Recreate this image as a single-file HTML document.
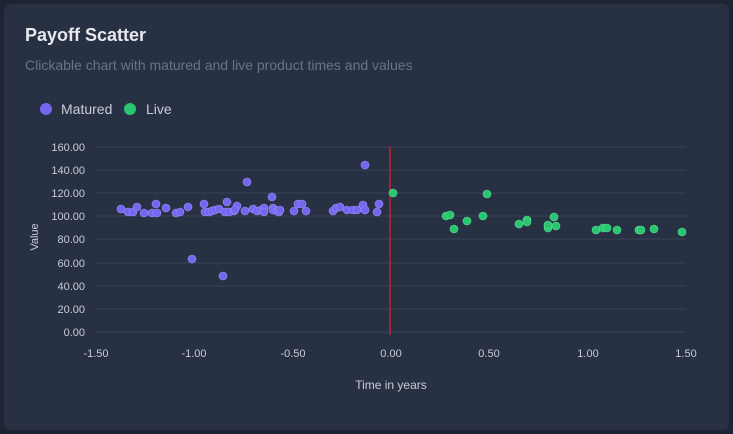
<!DOCTYPE html>
<html><head><style>
body{margin:0;background:#1e2433;width:733px;height:434px;overflow:hidden;font-family:"Liberation Sans",sans-serif}
.card{position:absolute;left:4px;top:4px;width:725px;height:426px;background:#283044;border-radius:6px}
</style></head><body>
<div class="card"></div>
<svg width="733" height="434" style="position:absolute;left:0;top:0">
<text x="25" y="41" fill="#e6e8ee" font-size="18" font-weight="bold">Payoff Scatter</text>
<text x="25" y="70" fill="#6b7386" font-size="14">Clickable chart with matured and live product times and values</text>
<circle cx="46" cy="109" r="6" fill="#7367f0"/><text x="61" y="114" fill="#c8ccd6" font-size="14">Matured</text>
<circle cx="130" cy="109" r="6" fill="#28c76f"/><text x="146" y="114" fill="#c8ccd6" font-size="14">Live</text>
<g stroke="#3a4256" stroke-width="1">
<line x1="96" x2="686" y1="147" y2="147"/><line x1="96" x2="686" y1="170" y2="170"/><line x1="96" x2="686" y1="193" y2="193"/><line x1="96" x2="686" y1="216" y2="216"/><line x1="96" x2="686" y1="239" y2="239"/><line x1="96" x2="686" y1="263" y2="263"/><line x1="96" x2="686" y1="286" y2="286"/><line x1="96" x2="686" y1="309" y2="309"/><line x1="96" x2="686" y1="332" y2="332"/>
</g>
<g fill="#c8ccd6" font-size="11" text-anchor="end">
<text x="85" y="151">160.00</text><text x="85" y="174">140.00</text><text x="85" y="197">120.00</text><text x="85" y="220">100.00</text><text x="85" y="243">80.00</text><text x="85" y="267">60.00</text><text x="85" y="290">40.00</text><text x="85" y="313">20.00</text><text x="85" y="336">0.00</text>
</g>
<g fill="#c8ccd6" font-size="11" text-anchor="middle">
<text x="96" y="357">-1.50</text><text x="194" y="357">-1.00</text><text x="293" y="357">-0.50</text><text x="391" y="357">0.00</text><text x="489" y="357">0.50</text><text x="588" y="357">1.00</text><text x="686" y="357">1.50</text>
<text x="391" y="389" font-size="12">Time in years</text>
</g>
<text transform="translate(38,237) rotate(-90)" fill="#c8ccd6" font-size="11" text-anchor="middle">Value</text>
<line x1="390" x2="390" y1="147" y2="335" stroke="#c0242a" stroke-width="1.5"/>
<g fill="#7367f0" stroke="#9a92f5" stroke-width="0.6">
<circle cx="121" cy="209" r="4"/><circle cx="128" cy="212" r="4"/><circle cx="133" cy="212" r="4"/><circle cx="137" cy="207" r="4"/><circle cx="144" cy="213" r="4"/><circle cx="152" cy="213" r="4"/><circle cx="156" cy="204" r="4"/><circle cx="157" cy="213" r="4"/><circle cx="166" cy="208" r="4"/><circle cx="176" cy="213" r="4"/><circle cx="180" cy="212" r="4"/><circle cx="188" cy="207" r="4"/><circle cx="192" cy="259" r="4"/><circle cx="204" cy="204" r="4"/><circle cx="205" cy="212" r="4"/><circle cx="209" cy="212" r="4"/><circle cx="212" cy="211" r="4"/><circle cx="215" cy="210" r="4"/><circle cx="219" cy="209" r="4"/><circle cx="223" cy="276" r="4"/><circle cx="225" cy="212" r="4"/><circle cx="227" cy="202" r="4"/><circle cx="229" cy="212" r="4"/><circle cx="234" cy="211" r="4"/><circle cx="237" cy="206" r="4"/><circle cx="235" cy="210" r="4"/><circle cx="245" cy="211" r="4"/><circle cx="247" cy="182" r="4"/><circle cx="253" cy="209" r="4"/><circle cx="257" cy="211" r="4"/><circle cx="261" cy="210" r="4"/><circle cx="264" cy="208" r="4"/><circle cx="264" cy="212" r="4"/><circle cx="272" cy="197" r="4"/><circle cx="273" cy="208" r="4"/><circle cx="273" cy="210" r="4"/><circle cx="277" cy="211" r="4"/><circle cx="279" cy="212" r="4"/><circle cx="280" cy="210" r="4"/><circle cx="294" cy="211" r="4"/><circle cx="298" cy="204" r="4"/><circle cx="302" cy="204" r="4"/><circle cx="306" cy="211" r="4"/><circle cx="333" cy="211" r="4"/><circle cx="336" cy="208" r="4"/><circle cx="340" cy="207" r="4"/><circle cx="347" cy="210" r="4"/><circle cx="353" cy="210" r="4"/><circle cx="357" cy="210" r="4"/><circle cx="363" cy="205" r="4"/><circle cx="365" cy="165" r="4"/><circle cx="365" cy="210" r="4"/><circle cx="377" cy="212" r="4"/><circle cx="379" cy="204" r="4"/>
</g>
<g fill="#28c76f" stroke="#5fdc97" stroke-width="0.6">
<circle cx="393" cy="193" r="4"/><circle cx="446" cy="216" r="4"/><circle cx="450" cy="215" r="4"/><circle cx="454" cy="229" r="4"/><circle cx="467" cy="221" r="4"/><circle cx="483" cy="216" r="4"/><circle cx="487" cy="194" r="4"/><circle cx="519" cy="224" r="4"/><circle cx="527" cy="220" r="4"/><circle cx="527" cy="222" r="4"/><circle cx="548" cy="228" r="4"/><circle cx="548" cy="225" r="4"/><circle cx="554" cy="217" r="4"/><circle cx="556" cy="226" r="4"/><circle cx="596" cy="230" r="4"/><circle cx="603" cy="228" r="4"/><circle cx="607" cy="228" r="4"/><circle cx="617" cy="230" r="4"/><circle cx="639" cy="230" r="4"/><circle cx="641" cy="230" r="4"/><circle cx="654" cy="229" r="4"/><circle cx="682" cy="232" r="4"/>
</g>
</svg>
</body></html>
